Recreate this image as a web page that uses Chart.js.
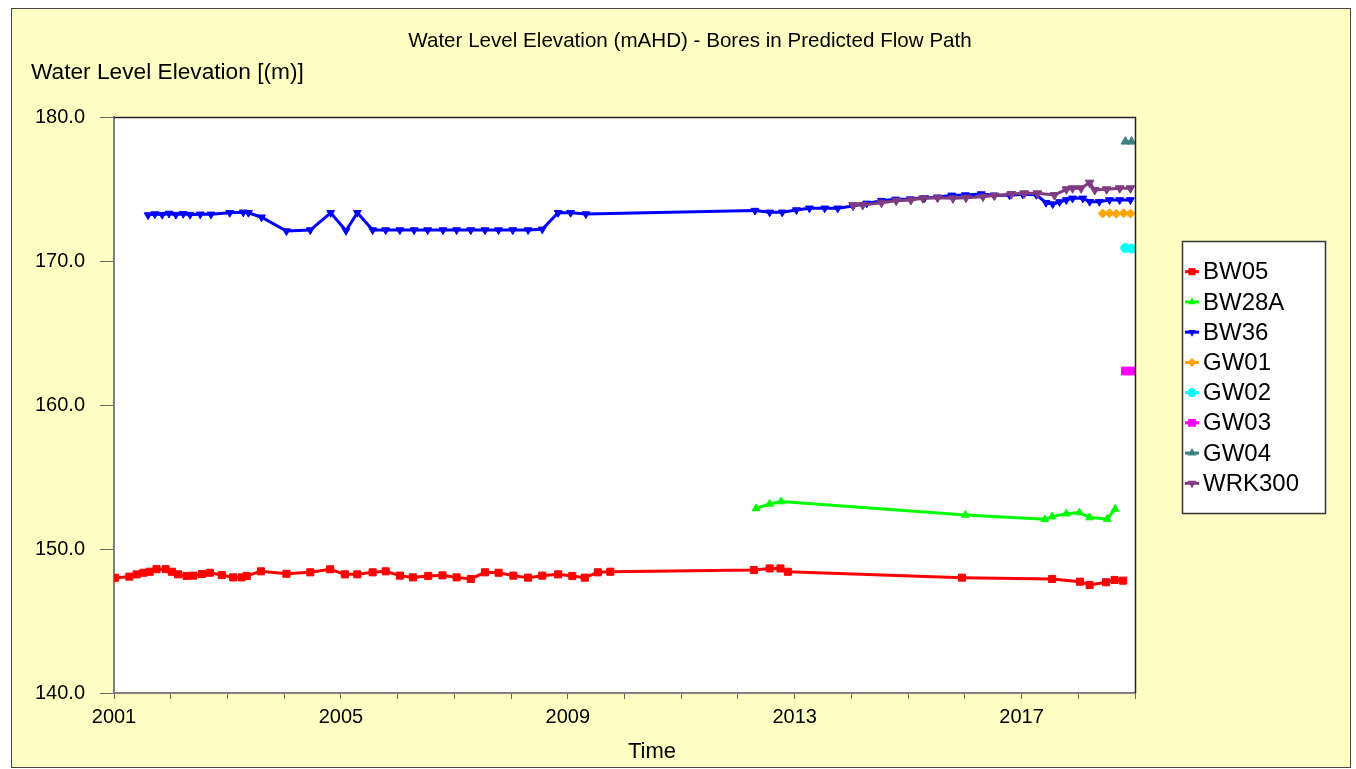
<!DOCTYPE html>
<html>
<head>
<meta charset="utf-8">
<title>Water Level Elevation (mAHD) - Bores in Predicted Flow Path</title>
<script src="https://cdn.jsdelivr.net/npm/chart.js@4.4.1/dist/chart.umd.min.js"></script>
<style>
  html, body { margin: 0; padding: 0; background: #fff; }
  #wrap { width: 1356px; height: 769px; }
</style>
</head>
<body>
<div id="wrap"><canvas id="wlChart" width="1356" height="769"></canvas></div>
<script>
// Time in decimal years, level in mAHD
const bw05Years = [2001.02, 2001.27, 2001.40, 2001.52, 2001.63, 2001.75, 2001.91, 2002.02, 2002.13, 2002.28, 2002.40, 2002.55, 2002.69, 2002.90, 2003.10, 2003.25, 2003.34, 2003.59, 2004.04, 2004.46, 2004.81, 2005.07, 2005.29, 2005.56, 2005.79, 2006.04, 2006.27, 2006.54, 2006.79, 2007.04, 2007.29, 2007.54, 2007.78, 2008.04, 2008.30, 2008.55, 2008.83, 2009.08, 2009.30, 2009.53, 2009.75, 2012.28, 2012.56, 2012.75, 2012.88, 2015.95, 2017.54, 2018.03, 2018.20, 2018.49, 2018.64, 2018.79];
const bw05Levels = [148.00, 148.08, 148.24, 148.35, 148.42, 148.60, 148.60, 148.42, 148.24, 148.13, 148.15, 148.26, 148.35, 148.19, 148.03, 148.03, 148.13, 148.45, 148.28, 148.38, 148.59, 148.24, 148.24, 148.38, 148.45, 148.15, 148.03, 148.13, 148.17, 148.03, 147.92, 148.38, 148.35, 148.15, 148.01, 148.15, 148.24, 148.13, 148.01, 148.38, 148.42, 148.54, 148.65, 148.65, 148.42, 148.01, 147.92, 147.73, 147.50, 147.69, 147.85, 147.80];

const bw28aYears = [2012.32, 2012.56, 2012.76, 2016.01, 2017.41, 2017.54, 2017.79, 2018.02, 2018.20, 2018.51, 2018.65];
const bw28aLevels = [152.82, 153.13, 153.29, 152.36, 152.06, 152.25, 152.45, 152.53, 152.18, 152.08, 152.78];

const bw36Years = [2001.60, 2001.72, 2001.85, 2001.97, 2002.09, 2002.22, 2002.34, 2002.52, 2002.71, 2003.04, 2003.28, 2003.37, 2003.60, 2004.04, 2004.46, 2004.82, 2005.09, 2005.29, 2005.56, 2005.79, 2006.04, 2006.29, 2006.53, 2006.80, 2007.04, 2007.29, 2007.54, 2007.78, 2008.03, 2008.30, 2008.55, 2008.83, 2009.05, 2009.32, 2012.30, 2012.56, 2012.78, 2013.03, 2013.26, 2013.53, 2013.76, 2014.03, 2014.27, 2014.53, 2014.78, 2015.04, 2015.29, 2015.52, 2015.77, 2016.01, 2016.29, 2016.52, 2016.79, 2017.02, 2017.26, 2017.43, 2017.55, 2017.67, 2017.79, 2017.90, 2018.08, 2018.20, 2018.37, 2018.55, 2018.73, 2018.92];
const bw36Levels = [173.19, 173.26, 173.22, 173.30, 173.22, 173.28, 173.22, 173.24, 173.24, 173.35, 173.38, 173.35, 173.04, 172.08, 172.15, 173.35, 172.10, 173.35, 172.15, 172.15, 172.15, 172.15, 172.15, 172.15, 172.15, 172.15, 172.15, 172.15, 172.15, 172.15, 172.20, 173.35, 173.35, 173.26, 173.50, 173.38, 173.38, 173.54, 173.66, 173.66, 173.66, 173.82, 174.00, 174.19, 174.28, 174.30, 174.38, 174.42, 174.56, 174.58, 174.65, 174.56, 174.56, 174.63, 174.60, 174.05, 173.95, 174.10, 174.24, 174.35, 174.35, 174.12, 174.12, 174.24, 174.24, 174.24];

const gw01Years = [2018.43, 2018.55, 2018.67, 2018.80, 2018.92];
const gw01Levels = [173.30, 173.32, 173.28, 173.32, 173.30];

const gw02Years = [2018.83, 2018.94];
const gw02Levels = [170.90, 170.86];

const gw03Years = [2018.83, 2018.94];
const gw03Levels = [162.36, 162.36];

const gw04Years = [2018.83, 2018.94];
const gw04Levels = [178.29, 178.29];

const wrk300Years = [2014.03, 2014.20, 2014.53, 2014.79, 2015.05, 2015.26, 2015.52, 2015.79, 2016.02, 2016.32, 2016.52, 2016.82, 2017.05, 2017.28, 2017.58, 2017.79, 2017.90, 2018.05, 2018.20, 2018.29, 2018.50, 2018.73, 2018.92];
const wrk300Levels = [173.89, 173.89, 174.05, 174.19, 174.24, 174.35, 174.40, 174.35, 174.40, 174.47, 174.54, 174.65, 174.70, 174.70, 174.58, 174.98, 175.05, 175.05, 175.44, 174.93, 174.98, 175.05, 175.05];

const yearTicks = [2001, 2005, 2009, 2013, 2017];
const levelTicks = [140, 150, 160, 170, 180];

const FONT = "'Liberation Sans', Arial, sans-serif";

function series(label, years, levels, color, pointStyle, radius, rotation) {
  return {
    label,
    data: years.map((x, i) => ({ x, y: levels[i] })),
    borderColor: color,
    backgroundColor: color,
    borderWidth: 3,
    pointStyle,
    pointRadius: radius,
    pointRotation: rotation || 0,
    pointBackgroundColor: color,
    pointBorderColor: color,
    pointBorderWidth: 1,
    tension: 0
  };
}

const datasets = [
  series('BW05', bw05Years, bw05Levels, '#ff0000', 'rect', 5),
  series('BW28A', bw28aYears, bw28aLevels, '#00ff00', 'triangle', 4.5),
  series('BW36', bw36Years, bw36Levels, '#0000ff', 'triangle', 4.5, 180),
  series('GW01', gw01Years, gw01Levels, '#ffa500', 'rectRot', 4.5),
  series('GW02', gw02Years, gw02Levels, '#00ffff', 'circle', 4.5),
  series('GW03', gw03Years, gw03Levels, '#ff00ff', 'rect', 5.5),
  series('GW04', gw04Years, gw04Levels, '#408080', 'triangle', 5),
  series('WRK300', wrk300Years, wrk300Levels, '#803c80', 'triangle', 5, 180)
];
// later series paint over earlier ones
datasets.forEach((ds, i) => { ds.order = datasets.length - i; });

// Panel, frame, titles and the boxed legend
const decor = {
  id: 'decor',
  beforeDraw(chart) {
    const { ctx, chartArea: a } = chart;
    ctx.save();
    ctx.fillStyle = '#ffffff';
    ctx.fillRect(0, 0, chart.width, chart.height);
    ctx.fillStyle = '#ffffc4';
    ctx.fillRect(12, 8, 1338, 759);
    ctx.strokeStyle = '#444';
    ctx.lineWidth = 1;
    ctx.strokeRect(11.5, 8.5, 1339, 759);
    ctx.fillStyle = '#ffffff';
    ctx.fillRect(a.left, a.top, a.right - a.left, a.bottom - a.top);
    ctx.restore();
  },
  afterDraw(chart) {
    const { ctx, chartArea: a } = chart;
    ctx.save();
    // top / right edge of plot area
    ctx.strokeStyle = '#222';
    ctx.lineWidth = 1.5;
    ctx.beginPath();
    ctx.moveTo(a.left, a.top + 0.5);
    ctx.lineTo(a.right + 0.5, a.top + 0.5);
    ctx.lineTo(a.right + 0.5, a.bottom);
    ctx.stroke();

    ctx.fillStyle = '#000';
    ctx.textBaseline = 'middle';
    ctx.textAlign = 'center';
    ctx.font = '20.6px ' + FONT;
    ctx.fillText('Water Level Elevation (mAHD) - Bores in Predicted Flow Path', 690, 41);
    ctx.font = '22px ' + FONT;
    ctx.fillText('Time', 652, 752);
    ctx.textAlign = 'left';
    ctx.font = '22.7px ' + FONT;
    ctx.fillText('Water Level Elevation [(m)]', 31, 73);

    // legend
    const bx = 1182, by = 241, bw = 143, bh = 272;
    ctx.fillStyle = '#ffffff';
    ctx.fillRect(bx, by, bw, bh);
    ctx.strokeStyle = '#333';
    ctx.lineWidth = 1.5;
    ctx.strokeRect(bx + 0.5, by + 0.5, bw, bh);
    ctx.font = '24px ' + FONT;
    chart.data.datasets.forEach((ds, i) => {
      const y = 271.7 + i * 30.23;
      ctx.strokeStyle = ds.borderColor;
      ctx.fillStyle = ds.borderColor;
      ctx.lineWidth = 3;
      ctx.beginPath();
      ctx.moveTo(1185, y);
      ctx.lineTo(1199, y);
      ctx.stroke();
      Chart.helpers.drawPoint(ctx, {
        pointStyle: ds.pointStyle,
        radius: ds.pointRadius,
        rotation: ds.pointRotation,
        borderWidth: 0
      }, 1192, y);
      ctx.fillStyle = '#000';
      ctx.fillText(ds.label, 1203, y + 1);
    });
    ctx.restore();
  }
};

new Chart(document.getElementById('wlChart').getContext('2d'), {
  type: 'line',
  data: { datasets },
  options: {
    responsive: false,
    animation: false,
    events: [],
    layout: { padding: { left: 0, top: 117, right: 221, bottom: 0 } },
    plugins: {
      legend: { display: false },
      title: { display: false },
      tooltip: { enabled: false }
    },
    scales: {
      x: {
        type: 'linear',
        min: 2001,
        max: 2019,
        afterFit: s => { s.height = 76; },
        ticks: {
          stepSize: 1,
          autoSkip: false,
          maxRotation: 0,
          padding: 6,
          color: '#000',
          font: { family: FONT, size: 20 },
          callback: v => yearTicks.includes(v) ? String(v) : ''
        },
        grid: { drawOnChartArea: false, drawTicks: true, tickLength: 6, tickColor: '#666' },
        border: { color: '#808080', width: 2 }
      },
      y: {
        min: levelTicks[0],
        max: levelTicks[levelTicks.length - 1],
        afterFit: s => { s.width = 114; },
        afterBuildTicks: s => { s.ticks = levelTicks.map(value => ({ value })); },
        ticks: {
          padding: 15,
          color: '#000',
          font: { family: FONT, size: 20 },
          callback: v => Number(v).toFixed(1)
        },
        grid: { drawOnChartArea: false, drawTicks: true, tickLength: 14, tickColor: '#666' },
        border: { color: '#808080', width: 2 }
      }
    }
  },
  plugins: [decor]
});
</script>
</body>
</html>
